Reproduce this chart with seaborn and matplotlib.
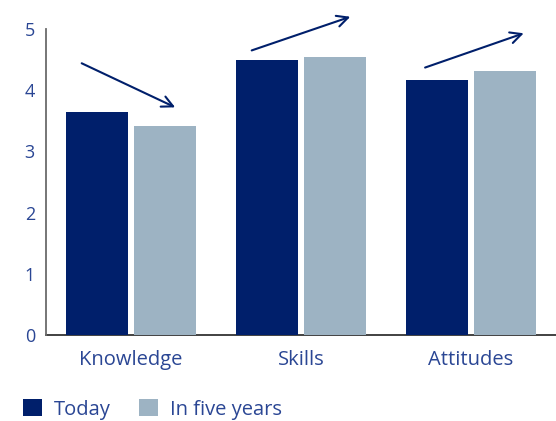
import matplotlib
matplotlib.use("Agg")
import matplotlib.pyplot as plt
import seaborn as sns
import pandas as pd
from matplotlib.patches import Patch

categories = ["Knowledge", "Skills", "Attitudes"]
series_names = ["Today", "In five years"]
today = [3.65, 4.49, 4.16]
five_years = [3.41, 4.55, 4.31]
y_ticks = [0, 1, 2, 3, 4, 5]

# trend arrows (annotation): offsets from category centre / values above bars
arrow_x_start = [-0.29, -0.29, -0.27]
arrow_x_end = [0.26, 0.29, 0.31]
arrow_y_start = [4.44, 4.65, 4.37]
arrow_y_end = [3.72, 5.20, 4.93]

navy = "#001f6b"
grey_blue = "#9db3c3"
text_col = "#2a4694"

df = pd.DataFrame({
    "category": categories * 2,
    "series": [series_names[0]] * 3 + [series_names[1]] * 3,
    "value": today + five_years,
})

sns.set_theme(style="white")
plt.rcParams["font.family"] = ["Open Sans", "DejaVu Sans"]

fig = plt.figure(figsize=(5.56, 4.21), dpi=100)
ax = fig.add_axes([46 / 556, 86 / 421, 510 / 556, 306 / 421])

sns.barplot(data=df, x="category", y="value", hue="series",
            palette=[navy, grey_blue], width=0.8, gap=0.088,
            ax=ax, legend=False, zorder=3, saturation=1, linewidth=0)

ax.set_xlim(-0.5, 2.5)
ax.set_ylim(0, 5)
ax.set_yticks(y_ticks)
ax.set_xlabel("")
ax.set_ylabel("")

for s in ["top", "right"]:
    ax.spines[s].set_visible(False)
ax.spines["left"].set_color("#6b6b6b")
ax.spines["left"].set_linewidth(1.3)
ax.spines["bottom"].set_color("#333333")
ax.spines["bottom"].set_linewidth(1.3)
ax.spines["bottom"].set_zorder(2)

ax.tick_params(axis="y", direction="in", length=9, width=1.1, color="#222222",
               labelsize=13, labelcolor=text_col, pad=8)
ax.tick_params(axis="x", which="major", length=0, labelsize=14.5,
               labelcolor=text_col, pad=11)
ax.set_xticks([0.5, 1.5, 2.5], minor=True)
ax.tick_params(axis="x", which="minor", direction="in", length=5, width=1,
               color="#333333")

for i in range(len(categories)):
    ax.annotate("", xy=(i + arrow_x_end[i], arrow_y_end[i]),
                xytext=(i + arrow_x_start[i], arrow_y_start[i]),
                xycoords="data", annotation_clip=False,
                arrowprops=dict(arrowstyle="->", color=navy, lw=1.5,
                                mutation_scale=20, shrinkA=0, shrinkB=0))

handles = [Patch(facecolor=navy, edgecolor="none"),
           Patch(facecolor=grey_blue, edgecolor="none")]
fig.legend(handles, series_names, loc="lower left",
           bbox_to_anchor=(0.008, -0.04), ncol=2, frameon=False,
           handlelength=0.95, handleheight=0.95, handletextpad=0.6,
           columnspacing=1.4, prop={"size": 14.5}, labelcolor=text_col)

fig.savefig("out.png", dpi=100)
